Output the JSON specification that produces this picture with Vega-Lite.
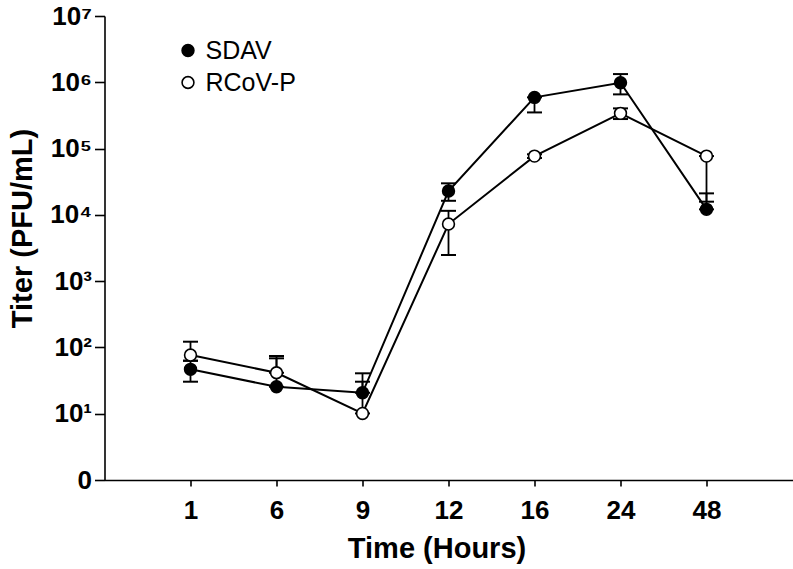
{
  "$schema": "https://vega.github.io/schema/vega-lite/v6.json",
  "width": 688,
  "height": 464,
  "autosize": {"type": "none"},
  "padding": {"left": 104.5, "top": 16, "right": 0.5, "bottom": 89},
  "background": "white",
  "config": {
    "view": {"stroke": null},
    "font": "Liberation Sans",
    "axis": {
      "domainColor": "black",
      "domainWidth": 1.6,
      "tickColor": "black",
      "tickWidth": 1.6,
      "labelColor": "black",
      "titleColor": "black",
      "labelFont": "Liberation Sans",
      "titleFont": "Liberation Sans",
      "labelFontWeight": "bold",
      "titleFontWeight": "bold",
      "grid": false
    }
  },
  "data": {
    "values": [
      {"time": "1", "virus": "SDAV", "titer": 46.7, "lo": 30.4, "hi": 63},
      {"time": "6", "virus": "SDAV", "titer": 25.5, "lo": 25.5, "hi": 68.5},
      {"time": "9", "virus": "SDAV", "titer": 20.7, "lo": 20.7, "hi": 40.7},
      {"time": "12", "virus": "SDAV", "titer": 22900, "lo": 16300, "hi": 29900},
      {"time": "16", "virus": "SDAV", "titer": 592000, "lo": 351000, "hi": 592000},
      {"time": "24", "virus": "SDAV", "titer": 983000, "lo": 657000, "hi": 1330000},
      {"time": "48", "virus": "SDAV", "titer": 12100, "lo": 12100, "hi": 21100},
      {"time": "1", "virus": "RCoV-P", "titer": 76.8, "lo": 63, "hi": 122},
      {"time": "6", "virus": "RCoV-P", "titer": 41.5, "lo": 41.5, "hi": 74.2},
      {"time": "9", "virus": "RCoV-P", "titer": 10.1, "lo": 10.1, "hi": 30.4},
      {"time": "12", "virus": "RCoV-P", "titer": 7270, "lo": 2480, "hi": 11500},
      {"time": "16", "virus": "RCoV-P", "titer": 77000, "lo": 72000, "hi": 82000},
      {"time": "24", "virus": "RCoV-P", "titer": 340000, "lo": 279000, "hi": 404000},
      {"time": "48", "virus": "RCoV-P", "titer": 77000, "lo": 15800, "hi": 77000}
    ]
  },
  "encoding": {
    "x": {
      "field": "time",
      "type": "ordinal",
      "scale": {"type": "point", "domain": ["1", "6", "9", "12", "16", "24", "48"], "padding": 1},
      "axis": {
        "title": "Time (Hours)",
        "labelAngle": 0,
        "labelFontSize": 26,
        "labelPadding": 11,
        "tickSize": 6,
        "titleFontSize": 29,
        "titleX": 332,
        "titleY": 77,
        "titleAnchor": "middle",
        "titleAlign": "center",
        "titleBaseline": "alphabetic"
      }
    }
  },
  "layer": [
    {
      "mark": {"type": "rule", "color": "black", "strokeWidth": 1.8},
      "encoding": {
        "y": {"field": "lo", "type": "quantitative", "scale": {"type": "log", "domain": [1, 10000000], "nice": false}},
        "y2": {"field": "hi"}
      }
    },
    {
      "mark": {"type": "tick", "color": "black", "size": 15, "thickness": 2, "opacity": 1},
      "encoding": {"y": {"field": "hi", "type": "quantitative"}}
    },
    {
      "mark": {"type": "tick", "color": "black", "size": 15, "thickness": 2, "opacity": 1},
      "encoding": {"y": {"field": "lo", "type": "quantitative"}}
    },
    {
      "mark": {"type": "line", "color": "black", "strokeWidth": 2},
      "encoding": {
        "y": {"field": "titer", "type": "quantitative"},
        "detail": {"field": "virus"}
      }
    },
    {
      "mark": {"type": "point", "shape": "circle", "filled": true, "stroke": "black", "strokeWidth": 1.6, "size": 140, "opacity": 1},
      "encoding": {
        "y": {
          "field": "titer",
          "type": "quantitative",
          "scale": {"type": "log", "domain": [1, 10000000], "nice": false},
          "axis": {
            "title": "Titer (PFU/mL)",
            "values": [1, 10, 100, 1000, 10000, 100000, 1000000, 10000000],
            "labelExpr": "datum.value <= 1 ? '0' : '10' + ['⁰','¹','²','³','⁴','⁵','⁶','⁷'][round(log(datum.value)/LN10)]",
            "labelFontSize": 26,
            "labelPadding": 3,
            "tickSize": 10,
            "titleFontSize": 29,
            "titleAngle": -90,
            "titleX": -73,
            "titleY": 212,
            "titleAlign": "center",
            "titleBaseline": "alphabetic"
          }
        },
        "fill": {
          "field": "virus",
          "type": "nominal",
          "scale": {"domain": ["SDAV", "RCoV-P"], "range": ["black", "white"]},
          "legend": {
            "title": null,
            "orient": "none",
            "legendX": 71,
            "legendY": 22,
            "padding": 0,
            "symbolType": "circle",
            "symbolSize": 140,
            "symbolStrokeColor": "black",
            "symbolStrokeWidth": 1.6,
            "labelFont": "Liberation Sans",
            "labelFontSize": 25,
            "labelColor": "black",
            "labelOffset": 5,
            "rowPadding": 6
          }
        }
      }
    }
  ]
}
